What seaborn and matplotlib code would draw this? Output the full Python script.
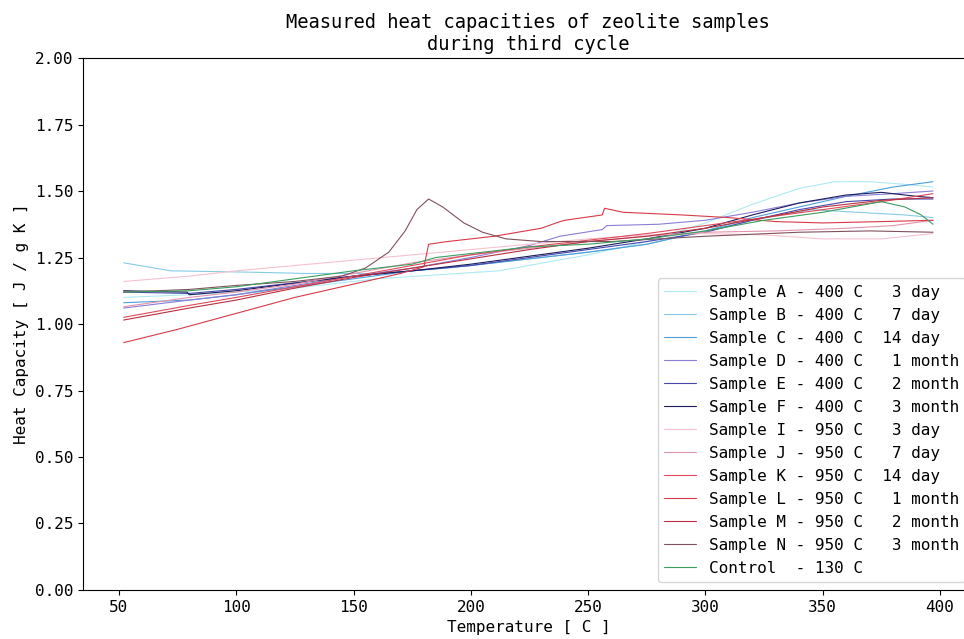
import matplotlib
matplotlib.use("Agg")
import matplotlib.pyplot as plt
import matplotlib.colors as mcolors
import seaborn as sns
import pandas as pd

sns.set_style("ticks")
plt.rcParams['font.family'] = ['DejaVu Sans Mono', 'DejaVu Sans']
plt.rcParams['text.color'] = 'black'
plt.rcParams['axes.labelcolor'] = 'black'
plt.rcParams['xtick.color'] = 'black'
plt.rcParams['ytick.color'] = 'black'
plt.rcParams['axes.edgecolor'] = 'black'

labels = [
    "Sample A - 400 C   3 day",
    "Sample B - 400 C   7 day",
    "Sample C - 400 C  14 day",
    "Sample D - 400 C   1 month",
    "Sample E - 400 C   2 month",
    "Sample F - 400 C   3 month",
    "Sample I - 950 C   3 day",
    "Sample J - 950 C   7 day",
    "Sample K - 950 C  14 day",
    "Sample L - 950 C   1 month",
    "Sample M - 950 C   2 month",
    "Sample N - 950 C   3 month",
    "Control  - 130 C",
]
colors = ["#aeeaf2", "#86cbe6", "#4f9fdc", "#8a7ed6", "#4646ae", "#1c1c5c",
          "#f6c2cf", "#e394ad", "#e04a5a", "#d83a48", "#b83040", "#80525c", "#3c9e60"]

temp_A = [52, 80, 100, 125, 160, 212, 250, 275, 300, 320, 340, 355, 370, 385, 397]
cp_A = [1.10, 1.11, 1.12, 1.135, 1.17, 1.20, 1.26, 1.31, 1.38, 1.45, 1.51, 1.535, 1.535, 1.525, 1.515]

temp_B = [52, 72, 105, 130, 160, 190, 225, 250, 275, 300, 320, 345, 365, 385, 397]
cp_B = [1.23, 1.20, 1.195, 1.19, 1.19, 1.21, 1.245, 1.27, 1.30, 1.35, 1.39, 1.43, 1.42, 1.41, 1.40]

temp_C = [52, 80, 100, 125, 150, 175, 200, 225, 250, 275, 300, 320, 340, 360, 380, 397]
cp_C = [1.08, 1.09, 1.11, 1.14, 1.17, 1.20, 1.22, 1.245, 1.27, 1.30, 1.35, 1.40, 1.44, 1.48, 1.515, 1.535]

temp_D = [52, 80, 100, 125, 150, 175, 200, 225, 238, 256, 258, 280, 300, 320, 340, 360, 380, 397]
cp_D = [1.06, 1.09, 1.11, 1.145, 1.18, 1.21, 1.25, 1.295, 1.33, 1.355, 1.37, 1.375, 1.39, 1.42, 1.455, 1.48, 1.49, 1.50]

temp_E = [52, 80, 100, 125, 150, 175, 200, 225, 250, 275, 300, 320, 340, 360, 380, 397]
cp_E = [1.12, 1.115, 1.13, 1.155, 1.18, 1.20, 1.22, 1.25, 1.28, 1.31, 1.345, 1.39, 1.43, 1.46, 1.47, 1.47]

temp_F = [52, 79, 80, 100, 122, 150, 175, 200, 225, 250, 275, 300, 320, 340, 360, 375, 390, 397]
cp_F = [1.125, 1.12, 1.11, 1.125, 1.15, 1.18, 1.20, 1.225, 1.255, 1.285, 1.32, 1.36, 1.41, 1.455, 1.485, 1.495, 1.48, 1.475]

temp_I = [52, 80, 100, 125, 150, 175, 200, 225, 250, 275, 300, 325, 350, 375, 397]
cp_I = [1.16, 1.18, 1.20, 1.22, 1.24, 1.26, 1.28, 1.30, 1.32, 1.335, 1.34, 1.335, 1.32, 1.32, 1.34]

temp_J = [52, 80, 100, 125, 150, 175, 200, 225, 250, 275, 300, 330, 360, 380, 397]
cp_J = [1.065, 1.10, 1.12, 1.15, 1.19, 1.23, 1.26, 1.285, 1.31, 1.33, 1.345, 1.35, 1.36, 1.37, 1.39]

temp_K = [52, 80, 100, 125, 150, 175, 200, 225, 250, 275, 300, 325, 350, 375, 397]
cp_K = [1.025, 1.07, 1.10, 1.14, 1.18, 1.22, 1.26, 1.29, 1.315, 1.34, 1.37, 1.40, 1.43, 1.46, 1.49]

temp_L = [52, 75, 100, 125, 150, 170, 180, 182, 190, 210, 230, 238, 240, 256, 257, 265, 290, 310, 330, 350, 375, 397]
cp_L = [0.93, 0.98, 1.04, 1.10, 1.15, 1.19, 1.215, 1.30, 1.31, 1.33, 1.36, 1.385, 1.39, 1.41, 1.435, 1.42, 1.41, 1.40, 1.385, 1.38, 1.385, 1.39]

temp_M = [52, 80, 100, 125, 150, 175, 200, 225, 250, 275, 300, 325, 350, 375, 397]
cp_M = [1.015, 1.06, 1.09, 1.135, 1.175, 1.21, 1.245, 1.28, 1.31, 1.33, 1.36, 1.40, 1.44, 1.465, 1.475]

temp_N = [52, 80, 100, 125, 145, 155, 165, 172, 177, 182, 188, 197, 205, 215, 230, 260, 300, 340, 370, 397]
cp_N = [1.12, 1.13, 1.145, 1.16, 1.18, 1.21, 1.27, 1.35, 1.43, 1.47, 1.44, 1.38, 1.345, 1.32, 1.31, 1.31, 1.33, 1.345, 1.35, 1.345]

temp_ctrl = [52, 80, 100, 125, 150, 175, 185, 200, 225, 250, 275, 300, 325, 350, 375, 385, 392, 397]
cp_ctrl = [1.12, 1.125, 1.14, 1.17, 1.20, 1.225, 1.25, 1.265, 1.29, 1.30, 1.32, 1.35, 1.39, 1.42, 1.46, 1.44, 1.41, 1.375]

series = [(temp_A, cp_A), (temp_B, cp_B), (temp_C, cp_C), (temp_D, cp_D), (temp_E, cp_E),
          (temp_F, cp_F), (temp_I, cp_I), (temp_J, cp_J), (temp_K, cp_K), (temp_L, cp_L),
          (temp_M, cp_M), (temp_N, cp_N), (temp_ctrl, cp_ctrl)]

rows = []
for lab, (t, c) in zip(labels, series):
    for xv, yv in zip(t, c):
        rows.append({"Temperature": xv, "Cp": yv, "Sample": lab})
df = pd.DataFrame(rows)

fig = plt.figure(figsize=(9.64, 6.39), dpi=100)
ax = fig.add_axes([0.0863, 0.0767, 0.9235, 0.8325])

sns.lineplot(data=df, x="Temperature", y="Cp", hue="Sample", hue_order=labels,
             palette=dict(zip(labels, colors)), estimator=None, sort=False,
             units="Sample", linewidth=0.8, legend=False, ax=ax)

# legend built from the drawn lines, matched by colour
by_color = {mcolors.to_hex(ln.get_color()): ln for ln in ax.get_lines()}
handles = [by_color[mcolors.to_hex(c)] for c in colors]

ax.set_xlim(34.75, 414.25)
ax.set_ylim(0, 2)
yt = [0, 0.25, 0.5, 0.75, 1.0, 1.25, 1.5, 1.75, 2.0]
ax.set_yticks(yt)
ax.set_yticklabels([f"{v:.2f}" for v in yt])
ax.set_xticks([50, 100, 150, 200, 250, 300, 350, 400])
ax.tick_params(labelsize=11.5)
ax.set_xlabel("Temperature [ C ]", fontsize=11.5)
ax.set_ylabel("Heat Capacity [ J / g K ]", fontsize=11.5)
ax.set_title("Measured heat capacities of zeolite samples\nduring third cycle", fontsize=13.5)
ax.legend(handles, labels, loc="lower right", fontsize=11.5)

fig.savefig("out.png", dpi=100)
